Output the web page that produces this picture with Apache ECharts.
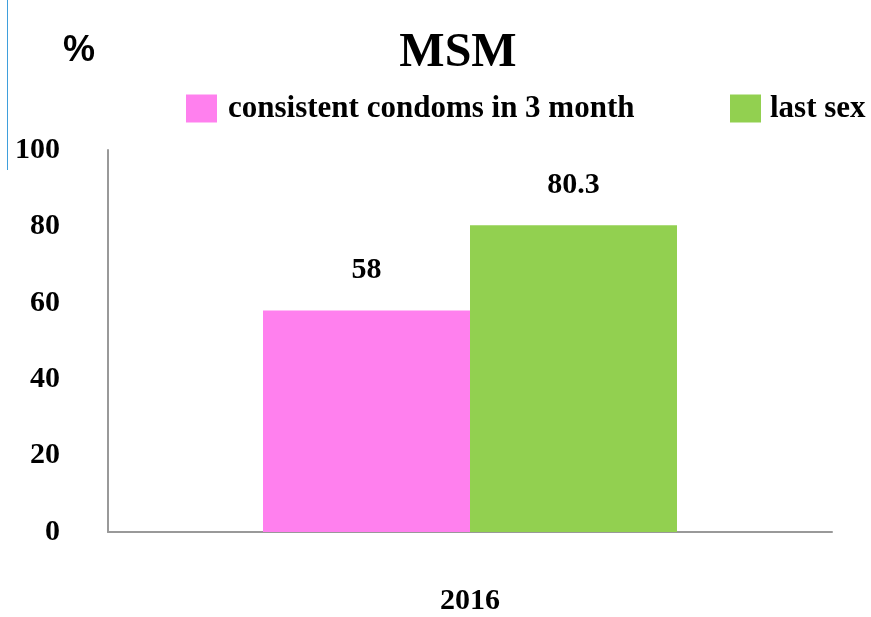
<!DOCTYPE html>
<html>
<head>
<meta charset="utf-8">
<script src="https://cdn.jsdelivr.net/npm/echarts@6/dist/echarts.min.js"></script>
<style>
  html, body { margin: 0; padding: 0; background: #fff; }
  #chart { width: 871px; height: 617px; }
</style>
</head>
<body>
<div id="chart"></div>
<script>
var years = ['2016']
var consistentCondoms = [58]
var lastSex = [80.3]
var yTicks = [0, 20, 40, 60, 80, 100]

var serif = '"Liberation Serif", "Times New Roman", serif'
var chart = echarts.init(document.getElementById('chart'))

chart.setOption({
  animation: false,
  backgroundColor: '#fff',
  title: {
    text: 'MSM',
    left: 453,
    top: 25,
    textAlign: 'center',
    textStyle: { fontFamily: serif, fontWeight: 'bold', fontSize: 48, color: '#000' }
  },
  graphic: [
    {
      type: 'text',
      left: 63,
      top: 33,
      style: { text: '%', font: 'bold 36px "Liberation Sans", Arial, sans-serif', fill: '#000' }
    },
    {
      type: 'line',
      shape: { x1: 7.5, y1: 0, x2: 7.5, y2: 170 },
      style: { stroke: '#3f9fdc', lineWidth: 1 }
    }
  ],
  legend: [
    {
      data: ['consistent condoms in 3 month'],
      left: 181,
      top: 88,
      icon: 'rect',
      itemWidth: 31,
      itemHeight: 28,
      textStyle: { fontFamily: serif, fontWeight: 'bold', fontSize: 31, color: '#000', padding: [0, 0, 0, 6] }
    },
    {
      data: ['last sex'],
      left: 725,
      top: 88,
      icon: 'rect',
      itemWidth: 31,
      itemHeight: 28,
      textStyle: { fontFamily: serif, fontWeight: 'bold', fontSize: 31, color: '#000', padding: [0, 0, 0, 4] }
    }
  ],
  grid: { left: 108, right: 39, top: 150, bottom: 85 },
  xAxis: {
    type: 'category',
    data: years,
    axisLine: { lineStyle: { color: '#999', width: 2 } },
    axisTick: { show: false },
    axisLabel: { margin: 54, fontFamily: serif, fontWeight: 'bold', fontSize: 30, color: '#000' }
  },
  yAxis: {
    type: 'value',
    min: yTicks[0],
    max: yTicks[yTicks.length - 1],
    interval: 20,
    axisLine: { show: true, lineStyle: { color: '#999', width: 2 } },
    axisTick: { show: false },
    splitLine: { show: false },
    axisLabel: { margin: 48, fontFamily: serif, fontWeight: 'bold', fontSize: 30, color: '#000' }
  },
  series: [
    {
      name: 'consistent condoms in 3 month',
      type: 'bar',
      data: consistentCondoms,
      barWidth: 207,
      barGap: '0%',
      itemStyle: { color: '#ff80ee' },
      label: { show: true, position: 'top', distance: 25, fontFamily: serif, fontWeight: 'bold', fontSize: 30, color: '#000' }
    },
    {
      name: 'last sex',
      type: 'bar',
      data: lastSex,
      barWidth: 207,
      barGap: '0%',
      itemStyle: { color: '#92d050' },
      label: { show: true, position: 'top', distance: 25, fontFamily: serif, fontWeight: 'bold', fontSize: 30, color: '#000' }
    }
  ]
})
</script>
</body>
</html>
